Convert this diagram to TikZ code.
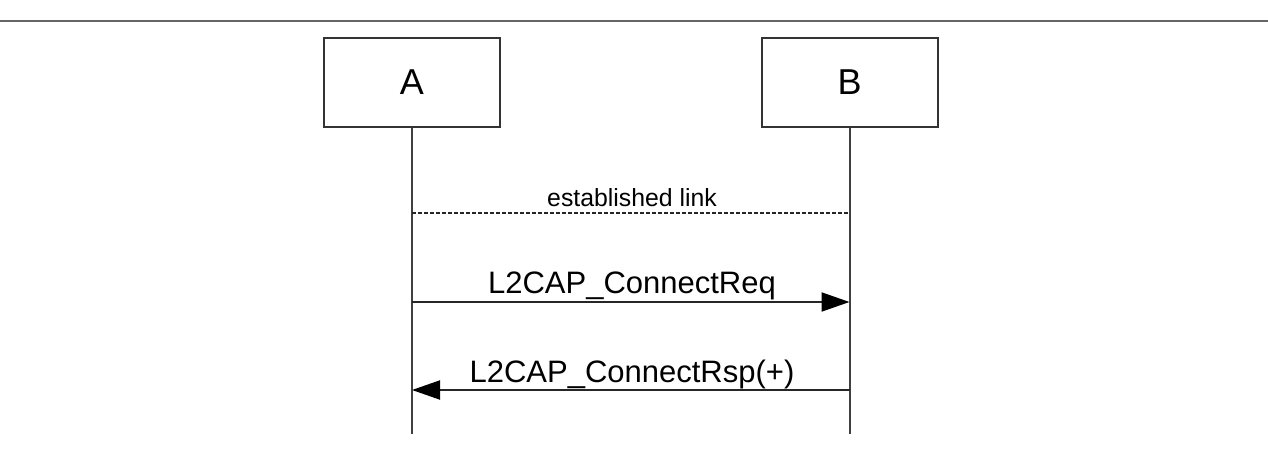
\documentclass[tikz,border=0pt]{standalone}
\usepackage{fontspec}
\setmainfont{Liberation Sans}
\usetikzlibrary{arrows.meta}
\usetikzlibrary{positioning}

\begin{document}
\begin{tikzpicture}[x=0.5pt, y=-0.5pt,
  entity/.style={draw=black!80, line width=1pt, minimum width=88pt, minimum height=44.5pt, inner sep=0pt, font=\fontsize{18}{20}\selectfont},
  msg/.style={draw=black!85, line width=1pt, -{Triangle[length=14pt, width=9.5pt, color=black]}},
  lbl/.style={inner sep=0pt, anchor=base, font=\fontsize{15.5}{18}\selectfont}]
\useasboundingbox (0,0) rectangle (1268,449);
\draw[black!60, line width=1.2pt] (0,21)--(1268,21);
\node[entity] (A) at (412,82.5) {A};
\node[entity] (B) at (849.5,82.5) {B};
\coordinate (Aend) at (412,434);
\coordinate (Bend) at (849.5,434);
\foreach \n in {A,B} {
 \draw[black!75, line width=1pt] (\n.south)--(\n end);
}
% established link
\coordinate (Alink) at (412,213);
\coordinate (Blink) at (849.5,213);
\draw[black!85, line width=0.6pt, dash pattern=on 2pt off 1pt] (Alink)--(Blink);
\node[lbl, font=\fontsize{12.4}{14}\selectfont] (link) at (632,206) {established link};
% messages
\coordinate (Areq) at (412,302);
\coordinate (Breq) at (849.5,302);
\draw[msg] (Areq)--(Breq);
\node[lbl] (req) at (632,293) {L2CAP\_ConnectReq};
\coordinate (Arsp) at (412,390);
\coordinate (Brsp) at (849.5,390);
\draw[msg] (Brsp)--(Arsp);
\node[lbl] (rsp) at (632,382) {L2CAP\_ConnectRsp(+)};
\end{tikzpicture}
\end{document}
